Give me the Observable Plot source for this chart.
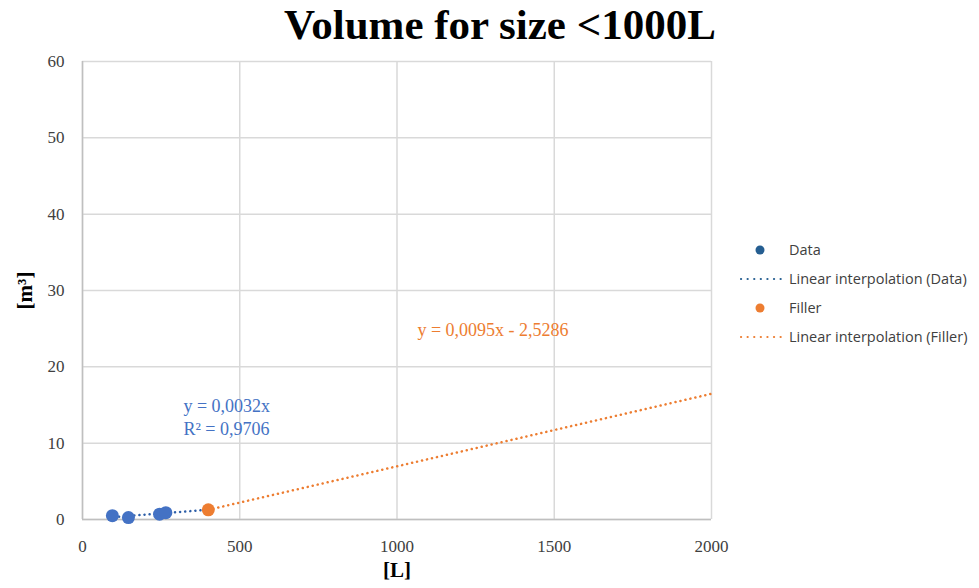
<!DOCTYPE html>
<html><head><meta charset="utf-8">
<script src="https://cdn.jsdelivr.net/npm/d3@7"></script>
<script src="https://cdn.jsdelivr.net/npm/@observablehq/plot@0.6"></script>
<style>
body{margin:0;background:#fff;width:979px;height:588px;overflow:hidden;position:relative;}
#title{position:absolute;left:0;top:0;width:979px;text-align:center;font-family:"Liberation Serif",serif;font-weight:bold;font-size:43px;line-height:50px;color:#000;padding-left:21px;box-sizing:border-box;}
#chart{position:absolute;left:0;top:50px;}
#chart svg, #chart svg g, #chart svg text{font-family:"Liberation Serif","Times New Roman",serif !important;}
#legend{position:absolute;left:738px;top:235px;font-family:"Open Sans",sans-serif;font-size:14.5px;color:#404040;}
.row{height:29px;display:flex;align-items:center;}
.mk{width:46px;height:20px;position:relative;}
.lab{margin-left:5px;}
</style></head><body>
<div id="title">Volume for size &lt;1000L</div>
<div id="chart"></div>
<div id="legend"></div>
<script>
// Data series (volume in L vs m³)
const dataX = [95, 146, 245, 265];
const dataY = [0.5, 0.25, 0.7, 0.9];
// Filler series
const fillerX = [400];
const fillerY = [1.27];
// Trendline endpoints
const trendDataX = [100, 400];
const trendDataY = [0.32, 1.28];
const trendFillerX = [400, 2000];
const trendFillerY = [1.27, 16.47];
const xTicks = [0, 500, 1000, 1500, 2000];
const yTicks = [0, 10, 20, 30, 40, 50, 60];
const legendLabels = ["Data", "Linear interpolation (Data)", "Filler", "Linear interpolation (Filler)"];
const eqData = ["y = 0,0032x", "R² = 0,9706"];
const eqFiller = "y = 0,0095x - 2,5286";

const blue = "#4472C4", orange = "#ED7D31";
const serif = "'Liberation Serif', 'Times New Roman', serif";
const zip = (xs, ys) => xs.map((x, i) => ({x, y: ys[i]}));

const plot = Plot.plot({
  width: 979, height: 538,
  marginLeft: 82, marginRight: 268, marginTop: 11, marginBottom: 69,
  x: {domain: [0, 2000], ticks: xTicks},
  y: {domain: [0, 60], ticks: yTicks},
  style: {fontFamily: serif, fontSize: "17px", color: "#404040", background: "#fff"},
  marks: [
    Plot.gridX(xTicks, {stroke: "#d9d9d9", strokeOpacity: 1, strokeWidth: 1.5}),
    Plot.gridY(yTicks, {stroke: "#d9d9d9", strokeOpacity: 1, strokeWidth: 1.5}),
    Plot.ruleX([0], {stroke: "#bfbfbf", strokeWidth: 1.5}),
    Plot.ruleY([0], {stroke: "#bfbfbf", strokeWidth: 1.5}),
    Plot.axisX(xTicks, {tickSize: 0, tickPadding: 20, label: null, fontSize: 17, fontFamily: serif, fontVariant: "normal", fill: "#404040", tickFormat: d3.format("d")}),
    Plot.axisY(yTicks, {tickSize: 0, tickPadding: 18, label: null, fontSize: 17, fontFamily: serif, fontVariant: "normal", fill: "#404040", tickFormat: d3.format("d")}),
    Plot.line(zip(trendFillerX, trendFillerY), {x: "x", y: "y", stroke: orange, strokeWidth: 2.5, strokeDasharray: "0.1,5", strokeLinecap: "round"}),
    Plot.line(zip(trendDataX, trendDataY), {x: "x", y: "y", stroke: "#2e5fa8", strokeWidth: 2.5, strokeDasharray: "0.1,5", strokeLinecap: "round"}),
    Plot.dot(zip(dataX, dataY), {x: "x", y: "y", r: 6.5, fill: blue}),
    Plot.dot(zip(fillerX, fillerY), {x: "x", y: "y", r: 6.5, fill: orange}),
    Plot.text([eqData[0]], {x: 321, y: 14.8, text: d => d, textAnchor: "start", fill: blue, fontSize: 18, fontFamily: serif}),
    Plot.text([eqData[1]], {x: 321, y: 11.8, text: d => d, textAnchor: "start", fill: blue, fontSize: 18, fontFamily: serif}),
    Plot.text([eqFiller], {x: 1065, y: 24.8, text: d => d, textAnchor: "start", fill: orange, fontSize: 18, fontFamily: serif}),
    Plot.text(["[m³]"], {frameAnchor: "left", textAnchor: "middle", dx: -57, rotate: -90, fontWeight: "bold", fontSize: 21, fill: "#000", fontFamily: serif}),
    Plot.text(["[L]"], {frameAnchor: "bottom", dy: 57, fontWeight: "bold", fontSize: 21, fill: "#000", fontFamily: serif})
  ]
});
document.getElementById("chart").appendChild(plot);

// Legend
const legendColors = ["#255e91", "#255e91", orange, orange];
const legend = document.getElementById("legend");
legendLabels.forEach((lab, i) => {
  const row = document.createElement("div"); row.className = "row";
  const mk = document.createElement("div"); mk.className = "mk";
  const isLine = i % 2 === 1;
  mk.innerHTML = isLine
    ? `<svg width="46" height="20"><line x1="3" y1="10" x2="44" y2="10" stroke="${legendColors[i]}" stroke-width="2.2" stroke-dasharray="0.1,6.5" stroke-linecap="round"/></svg>`
    : `<svg width="46" height="20"><circle cx="22" cy="10" r="4.5" fill="${legendColors[i]}"/></svg>`;
  const t = document.createElement("span"); t.className = "lab"; t.textContent = lab;
  row.appendChild(mk); row.appendChild(t); legend.appendChild(row);
});
</script>
</body></html>
